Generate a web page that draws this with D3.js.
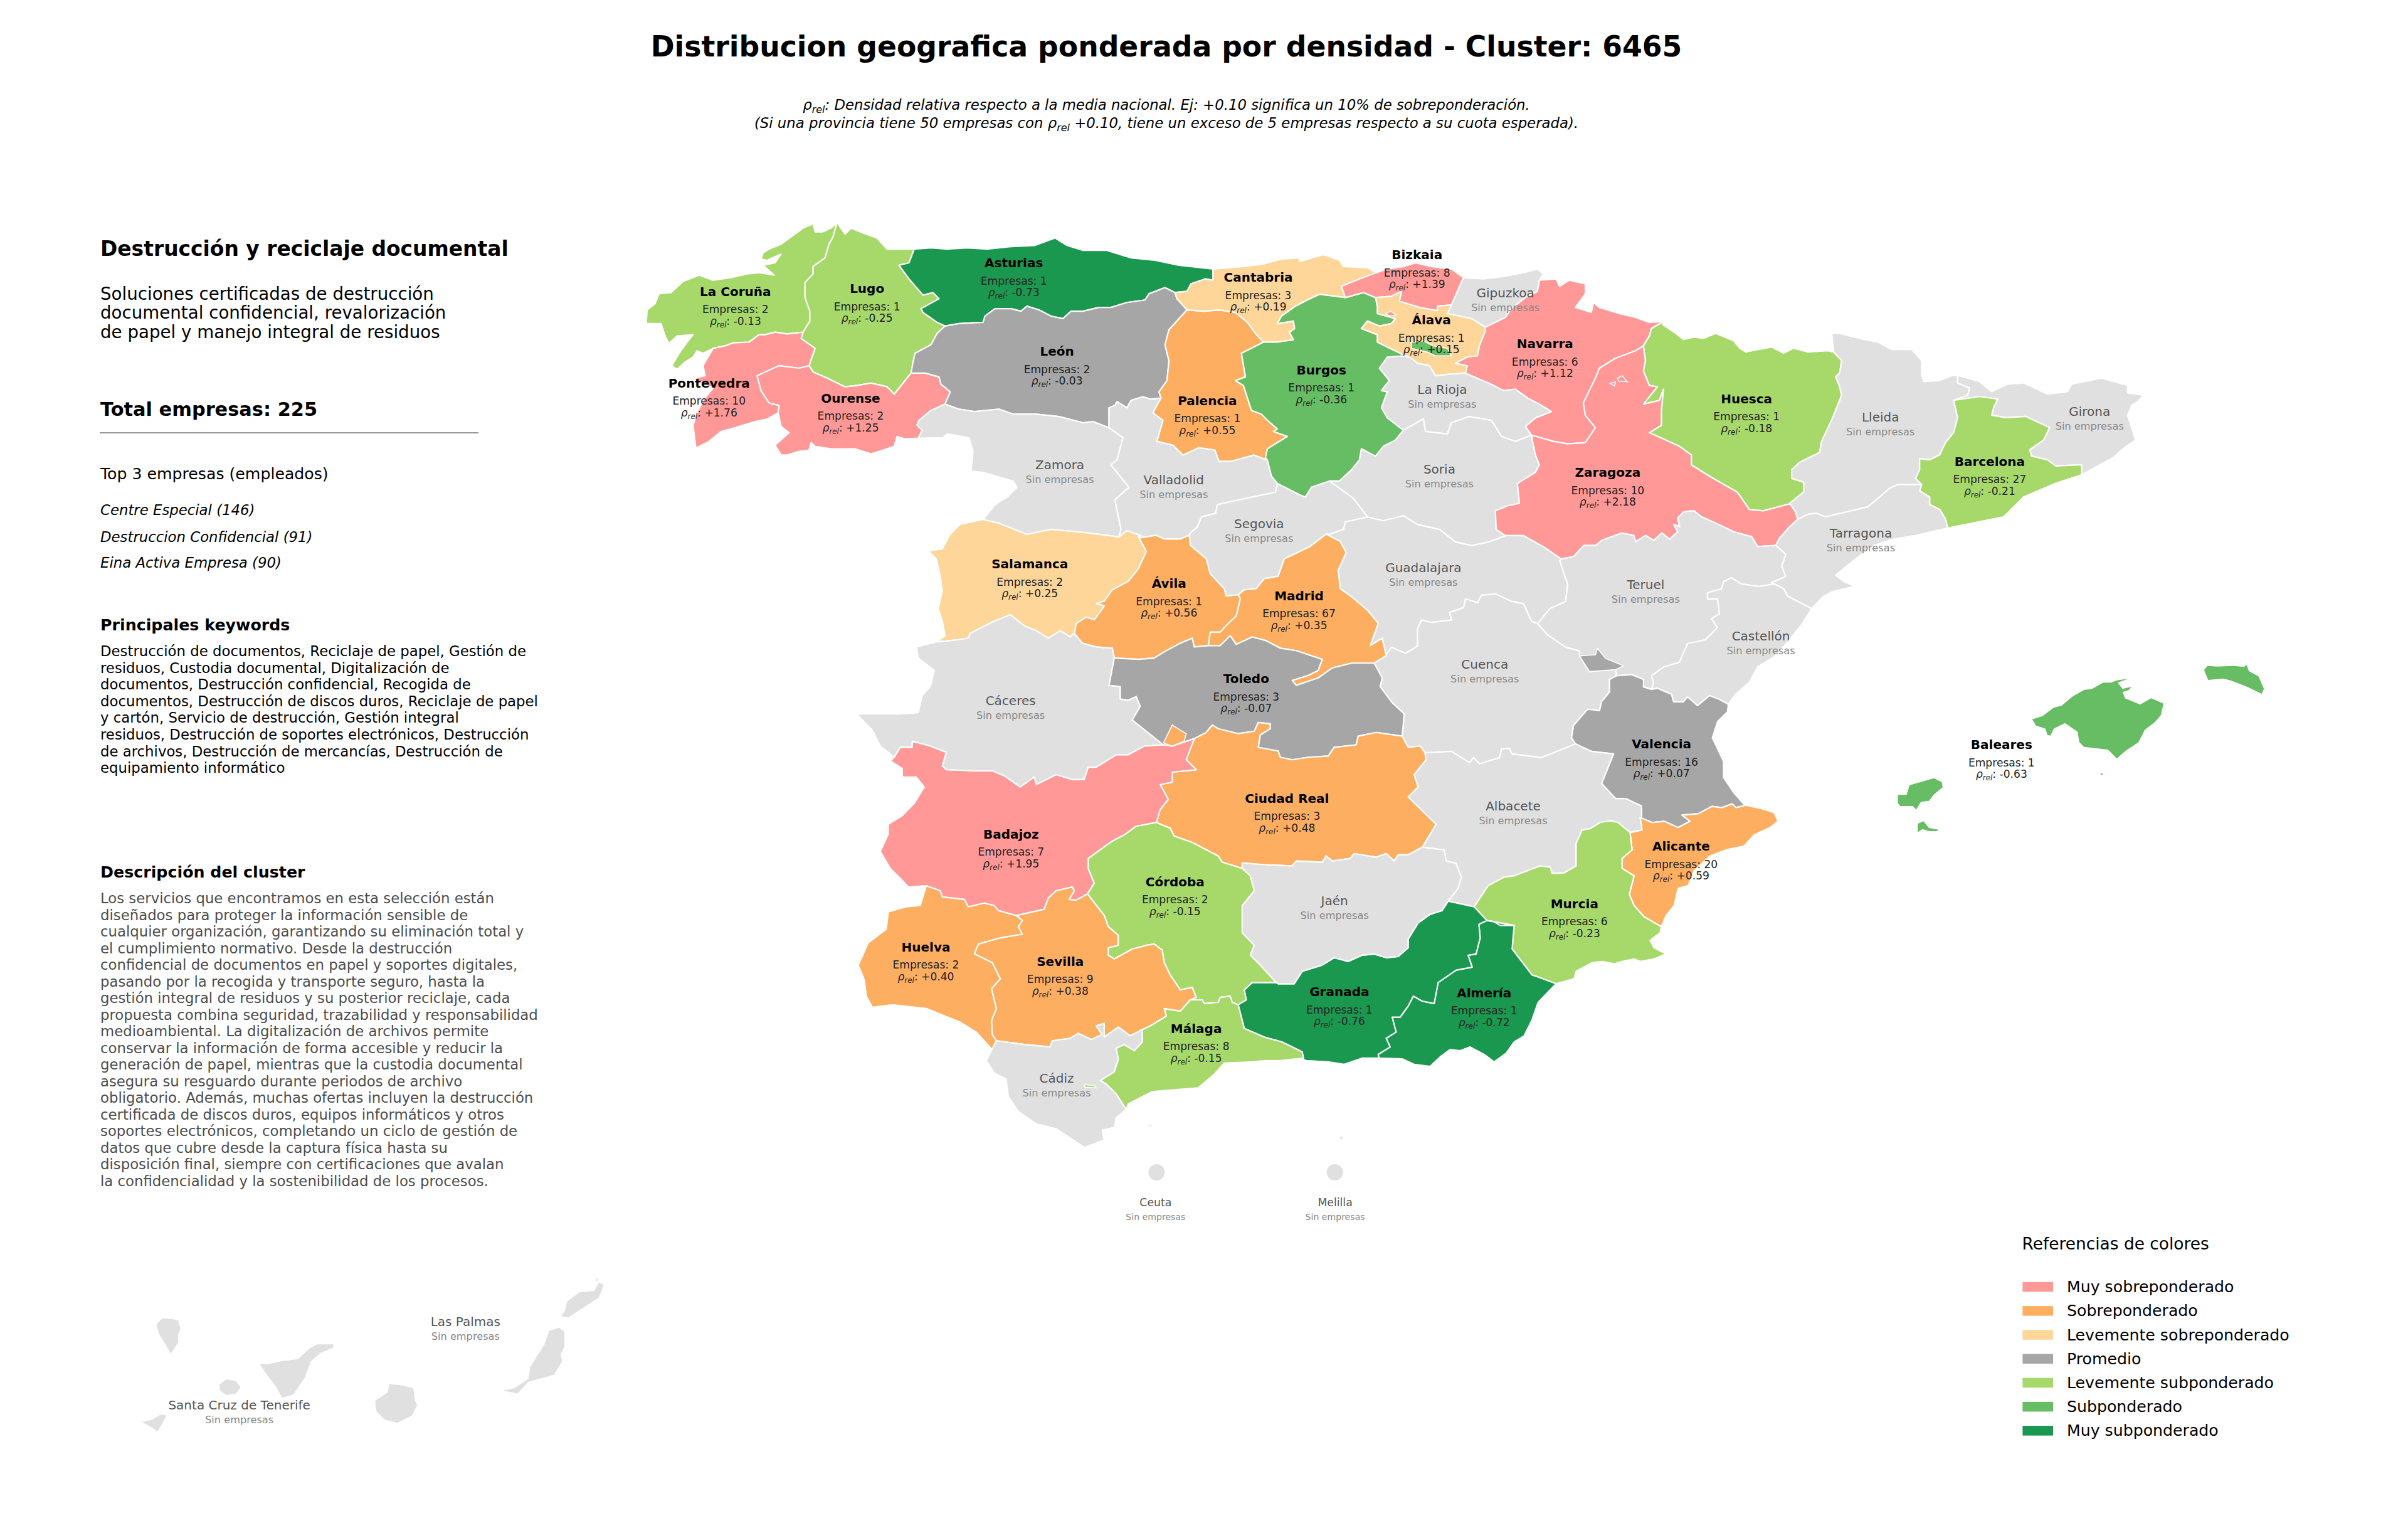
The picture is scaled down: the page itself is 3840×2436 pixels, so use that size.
<!DOCTYPE html>
<html><head><meta charset="utf-8">
<style>html,body{margin:0;padding:0;background:#fff}svg{display:block}text{font-family:"DejaVu Sans",sans-serif}</style>
<script src="https://cdn.jsdelivr.net/npm/d3@7"></script></head><body>
<script>
// ---------- chart values ----------
const provinceNames=["La Coruña","Lugo","Asturias","Pontevedra","Ourense","León","Palencia","Cantabria","Bizkaia","Álava","Navarra","Burgos","Huesca","Zaragoza","Barcelona","Salamanca","Ávila","Madrid","Toledo","Ciudad Real","Badajoz","Valencia","Alicante","Murcia","Córdoba","Huelva","Sevilla","Málaga","Granada","Almería","Baleares"];
const provinceCompanies=[2,1,1,10,2,2,1,3,8,1,6,1,1,10,27,2,1,67,3,3,7,16,20,6,2,2,9,8,1,1,1];
const provinceRho=[-0.13,-0.25,-0.73,1.76,1.25,-0.03,0.55,0.19,1.39,0.15,1.12,-0.36,-0.18,2.18,-0.21,0.25,0.56,0.35,-0.07,0.48,1.95,0.07,0.59,-0.23,-0.15,0.40,0.38,-0.15,-0.76,-0.72,-0.63];
const emptyProvinces=["Gipuzkoa","La Rioja","Zamora","Valladolid","Soria","Segovia","Lleida","Girona","Tarragona","Teruel","Castellón","Guadalajara","Cuenca","Cáceres","Albacete","Jaén","Cádiz","Ceuta","Melilla","Santa Cruz de Tenerife","Las Palmas"];
const legendLabels=["Muy sobreponderado","Sobreponderado","Levemente sobreponderado","Promedio","Levemente subponderado","Subponderado","Muy subponderado"];
const legendColors=["#ff9896","#fdae61","#fed699","#a6a6a6","#a6d96a","#66bd63","#1a9850"];
const rhoBreaks=[-0.7,-0.3,-0.1,0.1,0.3,1.0];
const topCompanies=["Centre Especial (146)","Destruccion Confidencial (91)","Eina Activa Empresa (90)"];
const subtitleLines=["Soluciones certificadas de destrucción","documental confidencial, revalorización","de papel y manejo integral de residuos"];
const keywordLines=["Destrucción de documentos, Reciclaje de papel, Gestión de","residuos, Custodia documental, Digitalización de","documentos, Destrucción confidencial, Recogida de","documentos, Destrucción de discos duros, Reciclaje de papel","y cartón, Servicio de destrucción, Gestión integral","residuos, Destrucción de soportes electrónicos, Destrucción","de archivos, Destrucción de mercancías, Destrucción de","equipamiento informático"];
const descriptionLines=["Los servicios que encontramos en esta selección están","diseñados para proteger la información sensible de","cualquier organización, garantizando su eliminación total y","el cumplimiento normativo. Desde la destrucción","confidencial de documentos en papel y soportes digitales,","pasando por la recogida y transporte seguro, hasta la","gestión integral de residuos y su posterior reciclaje, cada","propuesta combina seguridad, trazabilidad y responsabilidad","medioambiental. La digitalización de archivos permite","conservar la información de forma accesible y reducir la","generación de papel, mientras que la custodia documental","asegura su resguardo durante periodos de archivo","obligatorio. Además, muchas ofertas incluyen la destrucción","certificada de discos duros, equipos informáticos y otros","soportes electrónicos, completando un ciclo de gestión de","datos que cubre desde la captura física hasta su","disposición final, siempre con certificaciones que avalan","la confidencialidad y la sostenibilidad de los procesos."];

// ---------- map geometry: survey sheets and shared borders ----------
const sheets={A:[1000,330,1.568,2.529],B:[1900,330,1.568,2.529],C:[2500,480,1.568,2.529],D:[1340,800,1.568,2.529],E:[2200,850,1.568,2.529],F:[1340,1250,1.568,2.529],G:[2000,1250,1.568,2.529],H:[2900,1020,1.96,3],I:[200,2020,1.96,3],J:[1500,1640,1.96,3]};
const borders={
cru_coast:"A 525,62 510,85 490,100 470,100 465,68 440,85 415,115 385,150 355,170 340,185 335,210 350,215 385,190 370,225 340,235 368,275 330,265 300,270 260,285 215,295 180,275 140,300 110,345 80,350 70,390 50,415 48,470 85,470 95,520 105,550 125,520 165,515 150,545 130,590 112,640 125,655 145,625 165,605 175,580 190,590 215,570",
cru_pon:"A 215,570 245,560 265,548 305,545 330,515 345,515 370,505 400,512 440,505",
cru_lug:"A 525,62 515,120 505,150 495,205 465,240 465,270 445,305 445,365 457,420 457,460 440,505",
lug_pon:"A 440,505 435,530 470,570 460,615 455,640",
lug_our:"A 455,640 465,665 500,690 545,725 575,720 610,710 650,725 668,755 710,670",
lug_leo:"A 710,670 715,625 720,590 760,555 775,510 795,480",
lug_ast:"A 795,480 775,465 740,425 735,410 780,370 765,345 740,355 705,290 680,235 705,225 718,170",
lug_coast:"A 718,170 650,170 625,125 590,105 560,85 545,110 525,62",
pon_our:"A 455,640 430,650 380,640 325,680 335,740 355,790 380,800 378,830",
pon_out:"A 378,830 350,855 320,865 270,890 235,905 205,945 172,972",
pon_coast:"A 172,972 165,880 175,830 190,780 215,730 165,692 195,680 190,640 215,570",
our_leo:"A 710,670 745,670 780,685 785,715 808,745 795,795",
our_zam:"A 795,795 760,820 730,860 725,880 738,900 728,932",
our_out:"A 728,932 695,935 675,925 668,965 640,980 610,995 570,975 510,975 470,965 460,950 455,980 430,985 400,1000 385,1000 370,960 405,910 385,885 378,830",
ast_coast:"A 718,170 760,165 800,170 850,165 900,170 960,160 1020,155 1070,125 1100,155 1140,175 1200,175 1240,195 1260,205 1320,215 1380,235 1465,250",
ast_can:"A 1465,250 1465,295 1445,290 1410,310 1400,340 1370,345",
ast_leo:"A 1370,345 1345,325 1305,350 1295,375 1250,385 1210,405 1180,405 1140,420 1110,420 1090,450 1060,440 1030,415 1000,400 985,420 960,410 920,410 895,440 890,465 830,470 795,480",
leo_can:"A 1370,345 1375,370 1400,415",
leo_pal:"A 1400,415 1355,495 1345,555 1355,620 1350,700 1330,745 1335,770",
leo_vll:"A 1335,770 1310,775 1290,765 1260,780 1250,810 1225,785 1220,800 1205,810 1205,890",
leo_zam:"A 795,795 830,815 870,825 930,815 965,835 1020,835 1080,845 1140,870 1165,865 1205,890",
zam_vll:"A 1205,890 1240,930 1225,1020 1210,1040 1255,1130 1220,1180 1235,1300 1230,1330",
zam_sal:"A 1230,1330 1180,1320 1130,1310 1060,1300 1000,1320 930,1275 890,1260",
zam_out:"A 728,932 790,930 800,915 855,930 865,985 860,1065 890,1070 965,1105 975,1130 950,1170 920,1200 890,1260",
sal_vll:"A 1230,1330 1250,1305 1285,1325",
pal_vll:"A 1335,770 1315,830 1340,860 1325,945 1365,960 1390,1000 1430,970 1470,980 1480,1025 1510,1025 1568,1000 1600,1020",
can_coast:"B 55,250 130,240 180,230 225,210 270,205 270,220 330,192 370,215 380,240 440,245 462,265",
can_biz:"B 462,265 420,290 375,320 385,365",
can_bur:"B 385,365 320,352 290,375 260,400 225,440 215,470 255,460 258,490 245,505 255,535 215,545 180,545",
can_pal:"B 180,545 160,510 140,465 110,425 70,415 30,420 -11,415",
bur_biz:"B 385,365 430,345 460,365",
biz_ala:"B 460,365 500,360 525,340 520,380 570,405 615,418 615,400 650,395",
biz_gui:"B 650,395 665,340 680,285",
biz_coast:"B 462,265 490,250 530,240 560,225 600,240 650,250 680,285",
gui_coast:"B 680,285 730,290 780,280 830,265 865,250 880,270 870,295",
gui_ala:"B 650,395 640,430 700,450 735,485",
gui_nav:"B 735,485 785,445 800,410 835,365 865,340 870,295",
nav_coast:"B 870,295 912,290 920,320 945,295 985,310 985,350 960,405 1000,425 1005,385 1020,405 1070,430 1110,445 1145,465 1180,462",
nav_hsc:"B 1180,462 1150,490 1145,520 1130,560",
nav_zar:"B 1130,560 1110,580 1060,610 1020,650 1010,690 995,740 980,790 985,840 1010,890 985,950 940,955 905,945 850,920",
nav_rio:"B 685,670 750,715 780,740 810,735 840,770 870,795 900,825 860,850 835,885 850,920",
ala_nav:"B 735,485 735,500 720,560 715,600 690,605 660,630 690,640 685,670",
ala_rio:"B 685,670 640,675 610,680 595,640 565,630 550,610 535,600",
ala_bur:"B 460,365 465,400 465,430 510,450 500,470 470,480 440,460 425,490 465,515 465,545 535,600",
bur_rio:"B 535,600 490,605 470,650 495,700 475,740 490,745 475,810 490,850 530,900",
rio_sor:"B 530,900 580,855 585,905 640,915 650,870 695,845 750,860 775,925 810,945 850,920",
bur_sor:"B 530,900 510,940 480,965 460,1005 425,975 420,1020 400,1060 370,1105 345,1105",
bur_seg:"B 345,1105 300,1130 285,1170 270,1160 215,1115",
bur_vll:"B 215,1115 200,1085 190,1020",
bur_pal:"B 190,1020 185,1010 190,975 240,925 205,905 215,895 190,860 175,835 150,820 130,720 110,700 135,685 125,590 180,545",
sor_seg:"B 345,1105 405,1175 440,1250",
sor_gua:"B 440,1250 480,1265 530,1245 565,1280 620,1300 660,1350 700,1365 745,1350 785,1325",
sor_zar:"B 850,920 860,1000 870,1040 860,1070 815,1115 820,1195 790,1205 760,1225 762,1300 785,1325",
vll_seg:"B 215,1115 210,1150 150,1170 65,1200 60,1235 25,1250 15,1290 0,1310 -5,1322",
seg_gua:"B 440,1250 385,1270 380,1300 345,1320",
zar_gua:"B 785,1325 830,1325 880,1370 925,1420",
hsc_zar:"B 1130,560 1135,620 1130,660 1145,720 1165,725 1130,795 1170,780 1180,735 1175,820 1175,880 1145,910 1220,965 1250,1000 1250,1040 1300,1090 1365,1150 1395,1220 1430,1225 1500,1195",
hsc_coast:"C 238,95 270,130 290,155 315,145 340,150 370,130 415,160 430,190 445,205 510,185 540,210 565,190 600,205 650,200 665,205",
hsc_lle:"C 665,205 685,240 680,290 670,305 680,345 685,380 660,480 635,565 630,610 580,650 560,680 560,715 590,730 590,770 555,815",
zar_lle:"C 555,815 570,850 575,880",
zar_tar:"C 575,880 555,910 530,955 520,985",
zar_ter:"C 520,985 475,990 460,950 415,930 370,895 335,870 315,845 290,850 275,875 280,910 265,900 275,930 255,960 235,935 215,965 195,945 170,970 165,945 135,935 85,965 70,985 40,985 15,1030 -15,1039",
lle_coast:"C 665,205 660,130 680,130 740,155 775,165 810,195 860,195 885,240 885,295 890,325 930,320 960,300 975,300",
lle_gir:"C 975,300 975,330 1005,350 1000,380 965,400",
bar_lle:"C 885,740 870,715 880,680 880,635 905,640 930,620 945,570 965,530 975,470 965,400",
bar_gir:"C 965,400 1030,385 1075,395 1065,430 1060,460 1095,470 1145,465 1205,510 1190,560 1155,600 1160,625 1200,640 1220,665 1285,660 1285,700",
gir_coast:"C 975,300 1000,310 1030,325 1060,365 1100,335 1140,330 1200,375 1250,365 1260,335 1335,310 1400,340 1400,370 1440,380 1425,405 1410,420 1400,460 1420,560 1385,600 1365,630 1285,700",
bar_coast:"C 1285,700 1220,735 1140,790 1090,870 950,915",
bar_tar:"C 950,915 945,880 930,840 905,820 905,790 880,765 885,740",
lle_tar:"C 885,740 825,740 805,755 780,790 750,830 710,845 645,870 620,855 600,860 575,880",
tar_coast:"C 950,915 870,945 815,960 765,985 720,1040 670,1105 690,1130 718,1150 665,1170 640,1190 610,1240",
tar_ter:"C 520,985 545,1020 535,1070 545,1110 510,1135",
cas_tar:"C 510,1135 540,1160 550,1190 610,1240",
ter_cas:"E 985,205 950,215 905,205 880,180 860,195 855,225 820,240 820,265 845,265 850,325 830,345 845,380 815,430 770,445 750,520 710,540 680,575 685,605 680,630",
cas_coast:"E 1080,305 1055,370 1020,440 985,500 945,540 925,600 890,650 872,690",
cas_vlc:"E 680,630 695,625 730,650 735,680 760,680 770,660 795,695 825,655 850,670 872,690",
ter_vlc:"E 592,575 630,570 660,590 660,620 680,630",
gua_ter:"E 395,365 425,305 465,275 470,205 450,110",
gua_cue:"E 15,493 30,460 65,485 95,455 95,385 105,350 130,360 180,350 175,320 210,300 215,265 245,280 255,250 290,245 330,275 360,285 380,355 395,365",
cue_ter:"E 395,365 420,410 465,460 500,475 500,495 510,520 525,558 590,550 592,575",
cue_vlc:"E 592,575 575,590 575,640 555,680 550,715 520,710 485,775 480,825 490,850",
cue_alb:"E 490,850 405,905 330,890 325,868 305,870 300,905 250,930 235,905 225,925 180,880 115,885",
alb_vlc:"E 490,850 530,880 585,890 555,1010 590,1070 615,1070 655,1100 655,1145",
vlc_coast:"E 872,690 870,720 845,760 832,825 860,920 860,985 885,1045 915,1100",
vlc_ali:"G 965,135 995,155 1025,150 1060,175 1090,150 1070,125 1110,120 1145,90 1170,95 1195,80 1205,95 1230,85",
ali_alb:"G 940,195 970,185 965,135",
ali_coast:"G 1230,85 1270,100 1300,115 1310,150 1290,175 1250,205 1225,250 1180,265 1140,290 1100,350 1085,410 1060,420 1050,490 1030,530 1018,575",
ali_mur:"G 1018,575 975,535 950,490 938,445 950,370 920,340 920,300 945,265 940,195",
alb_mur:"G 550,495 585,410 625,375 650,370 715,330 740,335 745,360 775,358 805,330 805,240 820,185 840,180 865,155 890,148 910,155 940,195",
alb_gra:"G 485,472 550,495",
alb_jae:"G 422,255 475,265 480,310 505,320 518,375 510,420 485,472",
mur_coast:"G 1018,575 1015,600 990,630 1000,660 1030,685 1000,705 965,715 950,705 920,715 900,725 870,715 845,720 805,755 800,785 755,805",
mur_alm:"G 755,805 705,775 695,770 645,665 650,570",
mur_gra:"G 650,570 615,570 600,555 582,550 550,495",
gra_alm:"G 582,550 562,565 565,620 555,685 535,690 545,738 505,750 460,800 450,885 420,875 398,855 385,895 365,940 345,940 355,1000 330,1025 340,1060 310,1090 312,1105",
alm_coast:"G 755,805 710,880 695,950 675,1015 650,1040 630,1085 600,1120 575,1090 540,1060 515,1075 490,1070 465,1100 440,1138 400,1130 370,1108 312,1105",
gra_coast:"G 312,1105 270,1105 225,1130 185,1120 130,1115 122,1110",
gra_jae:"G 485,472 470,510 440,525 410,560 385,625 385,660 360,695 330,700 300,685 270,690 235,715 200,700 170,730 120,755 100,805 60,805",
seg_mad:"D 1215,130 1175,180 1110,230 1095,300 1060,310 1040,350 1010,355 995,375",
mad_gua:"D 1215,130 1250,160 1265,205 1245,275 1250,350 1280,385 1320,440 1345,490 1325,580 1355,550 1365,620",
mad_cue:"D 1365,620 1335,650",
tol_mad:"D 920,580 950,580 975,540 990,575 1030,545 1065,560 1100,590 1140,600 1205,635 1195,680 1170,700 1130,720 1140,740 1195,710 1230,670 1280,650 1335,650",
ava_mad:"D 995,375 1000,390 990,460 970,490 950,525 925,525 920,580",
ava_tol:"D 920,580 885,585 880,550 850,570 810,605 785,630 745,635 685,630",
ava_cac:"D 685,630 680,590 640,585 605,570 585,530",
sal_ava:"D 585,530 590,490 615,465 635,475 660,420 640,410 660,400 680,355 720,320 745,270 765,200 745,140",
ava_vll:"D 750,145 790,135 810,150 850,150 873,135",
ava_seg:"D 873,135 875,175 915,230 925,290 960,350 965,380 995,375",
sal_cac:"D 585,530 575,545 550,520 520,550 490,520 460,500 425,455 380,485 325,530 320,550 275,560 240,565",
sal_out:"D 360,70 300,90 275,130 255,190 220,198 240,230 250,300 255,360 245,430 255,480 262,540 240,565",
cac_out:"D 240,565 190,585 195,630 235,680 225,745 205,780 195,850 150,855 40,855 80,920 100,985 135,1030",
cac_bad:"D 135,1030 150,990 180,990 180,965 225,985 265,1010 255,1065 265,1080 330,1085 380,1085 410,1105 450,1150 485,1110 490,1140 540,1100 580,1120 610,1120 620,1070 640,1070 690,1020 720,1020 760,985 808,980",
tol_cac:"D 808,980 730,880 750,825 740,785 720,800 700,795 700,745 672,740 685,630",
tol_bad:"D 808,980 830,985 885,955",
tol_cue:"D 1335,650 1355,710 1350,745 1380,810 1410,855 1405,945",
tol_cr:"D 1405,945 1340,930 1295,945 1290,980 1235,990 1220,1025 1170,1030 1130,1040 1100,1030 1095,1005 1045,990 1050,940 1075,915 1075,895 1045,890 1035,925 995,935 945,915 930,900 915,930 885,955",
cr_cue:"D 1405,945 1420,990 1450,985 1462,1012",
alb_cr:"D 1462,1012 1465,1040 1435,1100 1445,1150 1420,1190 1490,1300 1460,1380 1455,1395",
cr_bad:"D 790,1295 800,1240 820,1200 800,1140 830,1130 830,1090 890,1080 865,1040 885,955",
bad_west:"D 135,1030 125,1045 155,1075 155,1110 190,1110 210,1150 185,1215 155,1265 120,1300 120,1340 100,1410 125,1478 150,1518 170,1553 215,1548",
bad_hlv:"F 215,410 250,430 255,455 310,465 320,495 360,480 385,490 395,510 440,530",
bad_sev:"F 440,530 510,505 520,460 540,430 580,415 585,430 572,465 590,468 618,443",
bad_cdb:"F 618,443 635,400 620,340 620,300 680,230 710,205 740,170 790,155",
cr_cdb:"F 790,155 825,178 835,210 880,235 945,290 955,315 1005,340",
cr_jae:"F 1005,340 1005,318 1060,325 1130,330 1140,310 1205,315 1215,290 1230,310 1275,300 1285,280 1340,295 1365,280 1385,310 1395,285 1420,285 1455,255",
cdb_jae:"F 1005,340 1025,370 1035,430 1005,490 1005,600 1035,650 1025,690 1050,730 1090,800",
cdb_gra:"F 995,890 1015,870 1010,830 1030,800 1090,800",
cdb_mal:"F 875,870 905,870 910,885 945,880 950,860 975,855 980,880 995,890",
cdb_sev:"F 618,443 660,530 670,575 695,610 695,650 670,660 670,690 685,705 730,665 755,655 765,650 785,645 805,670 810,720 825,770 850,830 880,820 890,860 875,870",
mal_gra:"F 1158,1105 1155,1080 1105,1040 1060,1020 1010,985 995,890",
mal_coast:"F 1158,1105 1100,1115 1060,1115 1030,1120 960,1125 935,1170 895,1225 815,1235 780,1240 720,1290 715,1312",
mal_cad:"F 715,1312 690,1250 665,1210 650,1195 685,1160 695,1110 690,1065 710,1050 735,1075 755,1040 755,990",
mal_sev:"F 755,990 775,975 815,935 810,905 850,915 875,870",
sev_cad:"F 755,990 725,1015 695,980 660,1020 660,965 640,975 655,1010 628,1030 595,1005 575,1025 530,1035 525,1060 460,1050 390,1035",
sev_hlv:"F 390,1035 380,1010 378,955 390,905 378,825 400,785 380,720 335,685 345,645 400,620 455,605 445,575 455,550 440,530",
hlv_coast:"F 215,410 200,490 165,495 120,515 115,585 70,640 45,730 60,790 65,855 80,900 130,890 215,905 300,960 340,1000 385,1080 390,1035",
cad_coast:"F 390,1035 365,1115 385,1165 415,1190 420,1260 445,1320 490,1370 540,1390 610,1465 660,1435 655,1395 685,1385 690,1345 715,1312"
};
const provinceBorders={
"La Coruña":"cru_coast cru_pon cru_lug","Lugo":"cru_lug lug_pon lug_our lug_leo lug_ast lug_coast","Pontevedra":"cru_pon lug_pon pon_our pon_out pon_coast","Ourense":"pon_our lug_our our_leo our_zam our_out","Asturias":"lug_ast ast_coast ast_can ast_leo","León":"ast_leo leo_can leo_pal leo_vll leo_zam our_leo lug_leo","Zamora":"our_zam leo_zam zam_vll zam_sal zam_out","Valladolid":"leo_vll pal_vll bur_vll vll_seg ava_vll sal_vll zam_vll","Palencia":"can_pal bur_pal pal_vll leo_pal","Cantabria":"ast_can can_coast can_biz can_bur can_pal leo_can","Burgos":"can_bur bur_biz ala_bur bur_rio bur_sor bur_seg bur_vll bur_pal","Bizkaia":"can_biz biz_coast biz_gui biz_ala bur_biz","Gipuzkoa":"biz_gui gui_coast gui_nav gui_ala","Álava":"biz_ala gui_ala ala_nav ala_rio ala_bur","Navarra":"gui_nav nav_coast nav_hsc nav_zar nav_rio ala_nav","La Rioja":"ala_rio nav_rio rio_sor bur_rio","Soria":"bur_sor rio_sor sor_zar sor_gua sor_seg","Segovia":"bur_seg sor_seg seg_gua seg_mad ava_seg vll_seg","Huesca":"nav_hsc hsc_coast hsc_lle hsc_zar","Zaragoza":"nav_zar hsc_zar zar_lle zar_tar zar_ter zar_gua sor_zar","Lleida":"hsc_lle lle_coast lle_gir bar_lle lle_tar zar_lle","Girona":"lle_gir gir_coast bar_gir","Barcelona":"bar_gir bar_coast bar_tar bar_lle","Tarragona":"lle_tar bar_tar tar_coast cas_tar tar_ter zar_tar","Teruel":"zar_ter tar_ter ter_cas ter_vlc cue_ter gua_ter","Castellón":"ter_cas cas_tar cas_coast cas_vlc","Guadalajara":"seg_gua sor_gua zar_gua gua_ter gua_cue mad_gua","Cuenca":"gua_cue cue_ter cue_vlc cue_alb cr_cue tol_cue mad_cue","Madrid":"seg_mad mad_gua mad_cue tol_mad ava_mad","Ávila":"ava_vll ava_seg ava_mad ava_tol ava_cac sal_ava","Salamanca":"zam_sal sal_vll sal_ava sal_cac sal_out","Cáceres":"sal_cac ava_cac tol_cac cac_bad cac_out","Toledo":"ava_tol tol_mad tol_cue tol_cr tol_bad tol_cac","Ciudad Real":"tol_cr cr_cue alb_cr cr_jae cr_cdb cr_bad","Badajoz":"cac_bad tol_bad cr_bad bad_cdb bad_sev bad_hlv bad_west","Valencia":"ter_vlc cas_vlc vlc_coast vlc_ali alb_vlc cue_vlc","Alicante":"vlc_ali ali_coast ali_mur ali_alb","Albacete":"cue_alb alb_vlc ali_alb alb_mur alb_gra alb_jae alb_cr","Murcia":"alb_mur ali_mur mur_coast mur_alm mur_gra","Almería":"mur_alm alm_coast gra_alm","Granada":"alb_gra mur_gra gra_alm gra_coast mal_gra cdb_gra gra_jae","Jaén":"cr_jae alb_jae gra_jae cdb_jae","Córdoba":"cr_cdb cdb_jae cdb_gra cdb_mal cdb_sev bad_cdb","Málaga":"cdb_mal mal_gra mal_coast mal_cad mal_sev","Sevilla":"bad_sev cdb_sev mal_sev sev_cad sev_hlv","Huelva":"bad_hlv sev_hlv hlv_coast","Cádiz":"sev_cad mal_cad cad_coast"};
// islands and enclaves: [province, sheet + outline]
const islands=[
["Baleares","H 668,380 700,365 735,325 760,315 795,270 830,240 855,235 890,205 915,205 930,195 970,185 935,205 950,235 978,225 970,240 950,250 958,280 1005,310 1040,280 1078,305 1070,360 1050,395 1020,430 1000,490 960,530 932,568 905,525 830,512 815,490 810,440 770,398 735,425 725,458 715,455 710,425 680,410"],
["Baleares","H 1205,145 1215,125 1250,128 1300,125 1330,130 1338,120 1345,150 1375,175 1385,210 1392,235 1385,258 1340,225 1290,195 1265,185 1218,192"],
["Baleares","H 248,742 275,742 285,695 320,680 360,662 385,680 388,705 360,740 345,770 320,775 305,812 295,795 255,795 248,780"],
["Baleares","H 310,880 328,868 345,900 375,908 370,915 345,915 325,905 310,920"],
["Baleares","H 880,640 890,640 885,648"],
["Santa Cruz de Tenerife","I 97,275 110,252 120,245 150,250 165,255 172,295 165,320 165,360 142,415 125,370 105,320"],
["Santa Cruz de Tenerife","I 420,465 445,465 490,450 540,440 575,390 600,370 650,370 650,385 610,410 580,450 560,530 525,610 490,625 470,570 440,510"],
["Santa Cruz de Tenerife","I 295,560 315,537 345,545 360,575 345,605 315,612 295,590"],
["Santa Cruz de Tenerife","I 52,742 85,730 110,705 128,710 115,750 100,785 80,765"],
["Las Palmas","I 780,640 820,600 825,560 860,565 900,580 905,640 912,660 895,710 850,745 810,730 785,690"],
["Las Palmas","I 1362,235 1375,205 1380,165 1420,120 1465,115 1480,75 1495,85 1480,145 1440,185 1385,240"],
["Las Palmas","I 1470,65 1475,48 1476,65"],
["Las Palmas","I 1325,305 1355,290 1372,310 1372,380 1360,420 1365,450 1340,515 1260,548 1225,605 1180,590 1215,580 1260,535 1265,480 1285,430 1310,370"],
["Cádiz","J 648,456 664,468 652,464"],
["Jaén","J 1252,510 1257,525 1247,528"],
["Burgos","B 550,545 580,540 605,560 640,570 650,600 610,600 590,585 550,570"],
["Valencia","E 500,495 540,490 545,465 565,505 610,535 590,550 525,558 510,520"],
["Ciudad Real","D 808,972 830,900 865,935 860,965 830,985"],
["Navarra","B 1065,690 1077,680 1090,705 1068,702"],
["Navarra","B 1047,712 1060,705 1058,722"],
["Bizkaia","B 485,430 498,420 512,435 495,440"],
["Málaga","F 610,1212 636,1216 640,1225 612,1222"]
];
const enclaveFrom=15;
const circleProvinces=[["Ceuta","J 675,687"],["Melilla","J 1232,687"]];

// label anchors: sheet + centre x, name baseline y
const labelAnchors={"La Coruña":"A 271,358","Lugo":"A 600,347","Asturias":"A 967,243","Pontevedra":"A 205,728","Ourense":"A 559,788","León":"A 1075,600","Zamora":"A 1082,1056","Valladolid":"A 1367,1118","Palencia":"A 1451,798","Salamanca":"A 1007,1457","Cantabria":"B 167,302","Bizkaia":"B 564,210","Gipuzkoa":"B 785,364","Álava":"B 600,473","Navarra":"B 884,570","Burgos":"B 325,674","La Rioja":"B 627,754","Soria":"B 620,1076","Huesca":"B 1388,791","Zaragoza":"B 1041,1088","Segovia":"B 169,1294","Guadalajara":"B 580,1473","Lleida":"C 782,485","Girona":"C 1305,462","Barcelona":"C 1055,665","Tarragona":"C 733,954","Teruel":"C 195,1162","Castellón":"C 483,1368","Ávila":"D 822,347","Madrid":"D 1147,397","Toledo":"D 1015,732","Cáceres":"D 426,820","Ciudad Real":"D 1117,1213","Badajoz":"D 427,1357","Cuenca":"E 263,545","Valencia":"E 705,868","Albacete":"E 334,1119","Alicante":"E 754,1280","Baleares":"H 572,523","Córdoba":"F 837,412","Huelva":"F 214,675","Sevilla":"F 550,733","Málaga":"F 890,1003","Cádiz":"F 541,1203","Jaén":"G 201,488","Murcia":"G 801,500","Granada":"G 213,855","Almería":"G 575,859","Ceuta":"J 672,850","Melilla":"J 1233,850","Santa Cruz de Tenerife":"I 356,680","Las Palmas":"I 1063,282"};

// ---------- build ----------
const parse=s=>{const [k,...p]=s.split(" ");const [x0,y0,sx,sy]=sheets[k];
  const fx=d3.scaleLinear().domain([0,sx]).range([x0,x0+1]),fy=d3.scaleLinear().domain([0,sy]).range([y0,y0+1]);
  return p.map(q=>{const [a,b]=q.split(",").map(Number);return [fx(a),fy(b)];});};
const borderPts=Object.fromEntries(Object.entries(borders).map(([k,v])=>[k,parse(v)]));
const dist=(a,b)=>Math.hypot(a[0]-b[0],a[1]-b[1]);
function chain(keys){const pool=keys.map(k=>borderPts[k]);let out=pool.shift().slice();
  while(pool.length){const e=out[out.length-1];let bi=0,bd=1e9,rev=false;
    pool.forEach((p,i)=>{const a=dist(e,p[0]),b=dist(e,p[p.length-1]);if(a<bd){bd=a;bi=i;rev=false}if(b<bd){bd=b;bi=i;rev=true}});
    const n=pool.splice(bi,1)[0];out=out.concat(rev?n.slice().reverse():n);}
  out.push(out[0]);return out;}
const rhoIdx=d3.scaleThreshold().domain(rhoBreaks).range(legendColors.slice().reverse());
const colorOf=name=>{const i=provinceNames.indexOf(name);return i<0?"#e0e0e0":rhoIdx(provinceRho[i]);};
const poly=(name,ring)=>({type:"Feature",properties:{name},geometry:{type:"Polygon",coordinates:[ring]}});
const mainFeatures=Object.entries(provinceBorders).map(([n,b])=>poly(n,chain(b.split(" "))));
const islandFeatures=islands.map(([n,s])=>{const r=parse(s);r.push(r[0]);return poly(n,r);});

const W=3840,H=2436;
const svg=d3.select("body").append("svg").attr("width",W).attr("height",H).attr("viewBox",`0 0 ${W} ${H}`);
svg.append("rect").attr("width",W).attr("height",H).attr("fill","#fff");
const geo=d3.geoPath(d3.geoIdentity());
svg.append("g").selectAll("path").data(mainFeatures).join("path").attr("d",geo).attr("fill",d=>colorOf(d.properties.name)).attr("stroke","#fff").attr("stroke-width",2.2).attr("stroke-linejoin","round");
svg.append("g").selectAll("path").data(islandFeatures).join("path").attr("d",geo).attr("fill",d=>colorOf(d.properties.name)).attr("stroke",(d,i)=>i>=enclaveFrom?"#fff":"none").attr("stroke-width",1.6);
svg.append("g").selectAll("circle").data(circleProvinces).join("circle")
  .attr("cx",d=>parse(d[1])[0][0]).attr("cy",d=>parse(d[1])[0][1]).attr("r",13).attr("fill",d=>colorOf(d[0]));

// labels
const labels=svg.append("g");
function rhoText(t,prefix,value,size,dy){
  t.append("tspan").attr("font-style","italic").text("ρ");
  t.append("tspan").attr("font-style","italic").attr("font-size",size*0.7).attr("dy",dy).text("rel");
  t.append("tspan").attr("dy",-dy).text(prefix+value);
}
const fmt=v=>d3.format("+.2f")(v).replace("−","-");
provinceNames.forEach((n,i)=>{const [x,y]=parse(labelAnchors[n])[0];
  labels.append("text").attr("x",x).attr("y",y).attr("text-anchor","middle").attr("font-size",20).attr("font-weight","bold").attr("fill","#000").text(n);
  labels.append("text").attr("x",x).attr("y",y+27.5).attr("text-anchor","middle").attr("font-size",17.1).attr("fill","#222").text("Empresas: "+provinceCompanies[i]);
  const t=labels.append("text").attr("x",x).attr("y",y+46).attr("text-anchor","middle").attr("font-size",17.1).attr("fill","#222");
  rhoText(t,": ",fmt(provinceRho[i]),17.1,4);
});
emptyProvinces.forEach(n=>{const [x,y]=parse(labelAnchors[n])[0];const small=(n==="Ceuta"||n==="Melilla");
  labels.append("text").attr("x",x).attr("y",y).attr("text-anchor","middle").attr("font-size",small?17.3:20).attr("fill","#555").text(n);
  labels.append("text").attr("x",x).attr("y",y+22).attr("text-anchor","middle").attr("font-size",small?14.1:16.2).attr("fill","#888").text("Sin empresas");
});

// title
svg.append("text").attr("x",1860).attr("y",90).attr("text-anchor","middle").attr("font-size",45.7).attr("font-weight","bold").text("Distribucion geografica ponderada por densidad - Cluster: 6465");
const s1=svg.append("text").attr("x",1860).attr("y",175).attr("text-anchor","middle").attr("font-size",22.8).attr("font-style","italic");
rhoText(s1,": Densidad relativa respecto a la media nacional. Ej: +0.10 significa un 10% de sobreponderación.","",22.8,5);
const s2=svg.append("text").attr("x",1860).attr("y",204).attr("text-anchor","middle").attr("font-size",22.8).attr("font-style","italic");
s2.append("tspan").text("(Si una provincia tiene 50 empresas con ");
rhoText(s2," +0.10, tiene un exceso de 5 empresas respecto a su cuota esperada).","",22.8,5);

// side panel
const side=svg.append("g").attr("fill","#000");
const tx=(s,y,size,o={})=>side.append("text").attr("x",160).attr("y",y).attr("font-size",size).attr("font-weight",o.b?"bold":null).attr("font-style",o.i?"italic":null).attr("fill",o.c||"#000").text(s);
tx("Destrucción y reciclaje documental",408,32.9,{b:1});
subtitleLines.forEach((s,i)=>tx(s,478+i*30.4,27.7));
tx("Total empresas: 225",663,30.4,{b:1});
side.append("line").attr("x1",159).attr("x2",763).attr("y1",690).attr("y2",690).attr("stroke","#999").attr("stroke-width",2);
tx("Top 3 empresas (empleados)",763.6,25.2);
topCompanies.forEach((s,i)=>tx(s,[820.7,864.3,905.4][i],22.8,{i:1}));
tx("Principales keywords",1005,25.3,{b:1});
keywordLines.forEach((s,i)=>tx(s,1046+i*26.6,22.8));
tx("Descripción del cluster",1399,25.3,{b:1});
descriptionLines.forEach((s,i)=>tx(s,1440+i*26.5,22.8,{c:"#4d4d4d"}));

// legend
const ly=d3.scaleBand().domain(legendLabels).range([2032.6,2032.6+38.2*7]);
const leg=svg.append("g");
leg.append("text").attr("x",3224.6).attr("y",1991.7).attr("font-size",26.4).text("Referencias de colores");
leg.selectAll("rect").data(legendLabels).join("rect").attr("x",3225.4).attr("width",48.6).attr("y",d=>ly(d)+11.3).attr("height",15.5).attr("fill",(d,i)=>legendColors[i]);
leg.selectAll("text.l").data(legendLabels).join("text").attr("class","l").attr("x",3296).attr("y",d=>ly(d)+27.5).attr("font-size",25.2).text(d=>d);
</script></body></html>
